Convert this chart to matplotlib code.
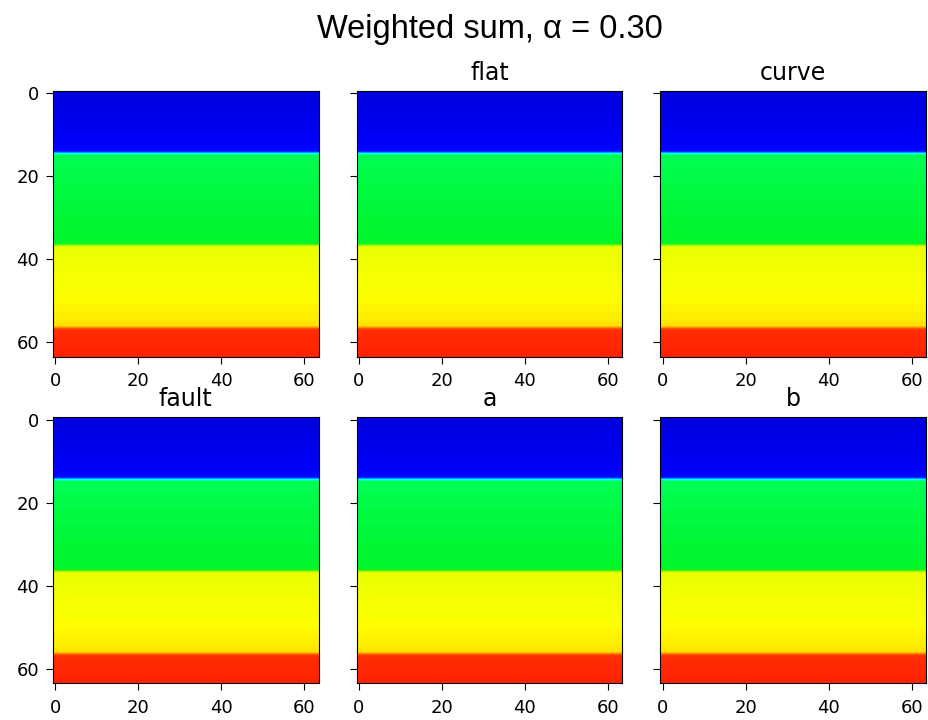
import matplotlib
matplotlib.use("Agg")
import matplotlib.pyplot as plt
import numpy as np
from matplotlib.colors import LinearSegmentedColormap

# Panel titles (first panel has none)
titles = ["", "flat", "curve", "fault", "a", "b"]
alpha = 0.30

# Normalised value of each of the 64 depth rows
profile = [
    0.08, 0.08, 0.09, 0.09, 0.10, 0.10, 0.11, 0.11, 0.12, 0.12,
    0.13, 0.13, 0.14, 0.15, 0.16,
    0.43, 0.43, 0.43, 0.44, 0.44, 0.44, 0.44, 0.45, 0.45, 0.45,
    0.45, 0.46, 0.46, 0.46, 0.46, 0.47, 0.47, 0.47, 0.47, 0.48,
    0.48, 0.48,
    0.63, 0.63, 0.63, 0.64, 0.64, 0.64, 0.65, 0.65, 0.65, 0.66,
    0.66, 0.66, 0.67, 0.67, 0.68, 0.68, 0.69, 0.69, 0.70, 0.71,
    0.91, 0.91, 0.92, 0.92, 0.92, 0.93, 0.93,
]
n_x = 64

# colour map nodes, matched to the picture
cmap_nodes = [
    (0.00, (0.0, 0.0, 0.75)),
    (0.15, (0.0, 0.0, 1.0)),
    (0.30, (0.0, 1.0, 1.0)),
    (0.42, (0.0, 1.0, 0.35)),
    (0.50, (0.0, 0.95, 0.1)),
    (0.62, (0.9, 1.0, 0.0)),
    (0.67, (1.0, 1.0, 0.0)),
    (0.72, (1.0, 0.85, 0.0)),
    (0.85, (1.0, 0.3, 0.0)),
    (1.00, (1.0, 0.0, 0.0)),
]
cmap = LinearSegmentedColormap.from_list("layers", cmap_nodes)

img = np.tile(np.array(profile)[:, None], (1, n_x))

plt.rcParams["xtick.labelsize"] = 13
plt.rcParams["ytick.labelsize"] = 13
plt.rcParams["xtick.major.size"] = 5
plt.rcParams["ytick.major.size"] = 5
plt.rcParams["xtick.major.pad"] = 6
plt.rcParams["ytick.major.pad"] = 5

fig, axes = plt.subplots(2, 3, figsize=(9.29, 7.2), dpi=100, sharey=True)
fig.subplots_adjust(left=0.057, right=0.997, top=0.874, bottom=0.051,
                    wspace=0.143, hspace=0.229)

for ax, t in zip(axes.flat, titles):
    ax.imshow(img, cmap=cmap, vmin=0, vmax=1, interpolation="bilinear")
    ax.set_xticks([0, 20, 40, 60])
    ax.set_yticks([0, 20, 40, 60])
    if t:
        ax.set_title(t, fontsize=17, pad=8)

fig.suptitle(f"Weighted sum, \u03b1 = {alpha:.2f}", fontsize=23.5,
             family=["Liberation Sans", "DejaVu Sans"], x=0.527, y=0.98)

fig.savefig("out.png", dpi=100)
